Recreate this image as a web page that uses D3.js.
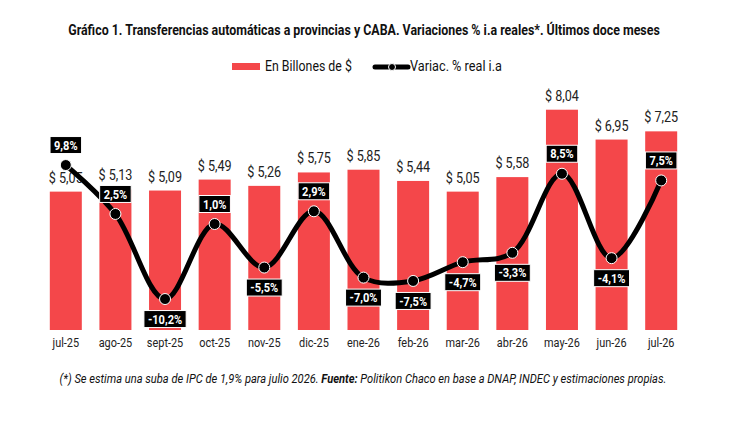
<!DOCTYPE html>
<html>
<head>
<meta charset="utf-8">
<script src="https://cdn.jsdelivr.net/npm/d3@7"></script>
<style>
  body { margin: 0; background: #fff; }
  text { font-family: Roboto, "Liberation Sans", Arial, sans-serif; }
</style>
</head>
<body>
<div id="chart"></div>
<script>
const months = ["jul-25", "ago-25", "sept-25", "oct-25", "nov-25", "dic-25", "ene-26", "feb-26", "mar-26", "abr-26", "may-26", "jun-26", "jul-26"];
const billones = [5.05, 5.13, 5.09, 5.49, 5.26, 5.75, 5.85, 5.44, 5.05, 5.58, 8.04, 6.95, 7.25];
const variac = [9.8, 2.5, -10.2, 1.0, -5.5, 2.9, -7.0, -7.5, -4.7, -3.3, 8.5, -4.1, 7.5];

const W = 730, H = 426;
const red = "#f4474a";

const svg = d3.select("#chart")
    .append("svg")
    .attr("width", W)
    .attr("height", H);

const data = months.map((m, i) => ({month: m, val: billones[i], pct: variac[i]}));

// squeeze text horizontally around its x (no condensed fonts installed)
function squeeze(sel, k) {
    sel.each(function() {
        const x0 = +this.getAttribute("x") || 0;
        this.setAttribute("transform", `translate(${x0 * (1 - k)},0) scale(${k},1)`);
    });
}
function fitWidth(sel, w) {
    const bw = sel.node().getBBox().width;
    squeeze(sel, w / bw);
}

// Scales
const x = d3.scaleBand().domain(months).range([41, 686]).paddingInner(0.355).paddingOuter(0.1775);
const yBar = d3.scaleLinear().domain([0, 10]).range([330, 56]);
const yPct = d3.scaleLinear().domain([-15, 15]).range([331.2, 130.2]);
const cx = d => x(d.month) + x.bandwidth() / 2;
const fmt = v => v.toFixed(2).replace(".", ",");
const fmtPct = v => v.toFixed(1).replace(".", ",") + "%";

// Title
const title = svg.append("text")
    .attr("x", 364).attr("y", 35)
    .attr("text-anchor", "middle")
    .style("font-weight", "bold")
    .style("font-size", "14px")
    .attr("fill", "#111")
    .text("Gráfico 1. Transferencias automáticas a provincias y CABA. Variaciones % i.a reales*. Últimos doce meses");
fitWidth(title, 592);

// Legend
const legend = svg.append("g");
legend.append("rect").attr("x", 232).attr("y", 63).attr("width", 28).attr("height", 7).attr("fill", red);
const lt1 = legend.append("text").attr("x", 265).attr("y", 71).style("font-size", "14px").attr("fill", "#111").text("En Billones de $");
fitWidth(lt1, 87);
legend.append("line").attr("x1", 375).attr("x2", 408).attr("y1", 67).attr("y2", 67)
    .attr("stroke", "#000").attr("stroke-width", 5).attr("stroke-linecap", "round");
legend.append("circle").attr("cx", 392).attr("cy", 67).attr("r", 3.5).attr("fill", "#000").attr("stroke", "#fff").attr("stroke-width", 1);
const lt2 = legend.append("text").attr("x", 410).attr("y", 71).style("font-size", "14px").attr("fill", "#111").text("Variac. % real i.a");
fitWidth(lt2, 92);

// Bars
svg.selectAll("rect.bar")
    .data(data)
    .enter()
    .append("rect")
    .attr("class", "bar")
    .attr("x", d => x(d.month))
    .attr("width", x.bandwidth())
    .attr("y", d => yBar(d.val))
    .attr("height", d => yBar(0) - yBar(d.val))
    .attr("fill", red);

// Bar value labels
svg.selectAll("text.val")
    .data(data)
    .enter()
    .append("text")
    .attr("class", "val")
    .attr("x", cx)
    .attr("y", d => yBar(d.val) - 9)
    .attr("text-anchor", "middle")
    .style("font-size", "14px")
    .attr("fill", "#222")
    .text(d => "$ " + fmt(d.val))
    .call(squeeze, 0.9);

// X axis labels
svg.selectAll("text.month")
    .data(data)
    .enter()
    .append("text")
    .attr("class", "month")
    .attr("x", cx)
    .attr("y", 347)
    .attr("text-anchor", "middle")
    .style("font-size", "13px")
    .attr("fill", "#222")
    .text(d => d.month)
    .call(squeeze, 0.84);

// Line
const line = d3.line()
    .x(cx)
    .y(d => yPct(d.pct))
    .curve(d3.curveCatmullRom.alpha(0.5));

svg.append("path")
    .datum(data)
    .attr("d", line)
    .attr("fill", "none")
    .attr("stroke", "#000")
    .attr("stroke-width", 5);

svg.selectAll("circle.pt")
    .data(data)
    .enter()
    .append("circle")
    .attr("class", "pt")
    .attr("cx", cx)
    .attr("cy", d => yPct(d.pct))
    .attr("r", 5.5)
    .attr("fill", "#000")
    .attr("stroke", "#fff")
    .attr("stroke-width", 1);

// Percent labels
const pk = 0.85;
const pl = svg.selectAll("g.pl")
    .data(data)
    .enter()
    .append("g")
    .attr("class", "pl")
    .attr("transform", d => `translate(${cx(d)},${yPct(d.pct) + (d.pct >= 0 ? -20 : 20)})`);

pl.append("text")
    .attr("x", 0)
    .attr("text-anchor", "middle")
    .attr("dy", "0.36em")
    .style("font-weight", "bold")
    .style("font-size", "13px")
    .attr("fill", "#fff")
    .text(d => fmtPct(d.pct))
    .call(squeeze, pk)
    .each(function() {
        const w = this.getComputedTextLength() * pk;
        d3.select(this.parentNode).insert("rect", "text")
            .attr("x", -w / 2 - 4)
            .attr("y", -8.5)
            .attr("width", w + 8)
            .attr("height", 17)
            .attr("fill", "#000")
            .attr("stroke", "#fff")
            .attr("stroke-width", 1);
    });

// Footnote
const foot = svg.append("text")
    .attr("x", 363).attr("y", 383)
    .attr("text-anchor", "middle")
    .style("font-style", "italic")
    .style("font-size", "12.5px")
    .attr("fill", "#111");
foot.append("tspan").text("(*) Se estima una suba de IPC de 1,9% para julio 2026. ");
foot.append("tspan").style("font-weight", "bold").text("Fuente:");
foot.append("tspan").text(" Politikon Chaco en base a DNAP, INDEC y estimaciones propias.");
fitWidth(foot, 607);
</script>
</body>
</html>
